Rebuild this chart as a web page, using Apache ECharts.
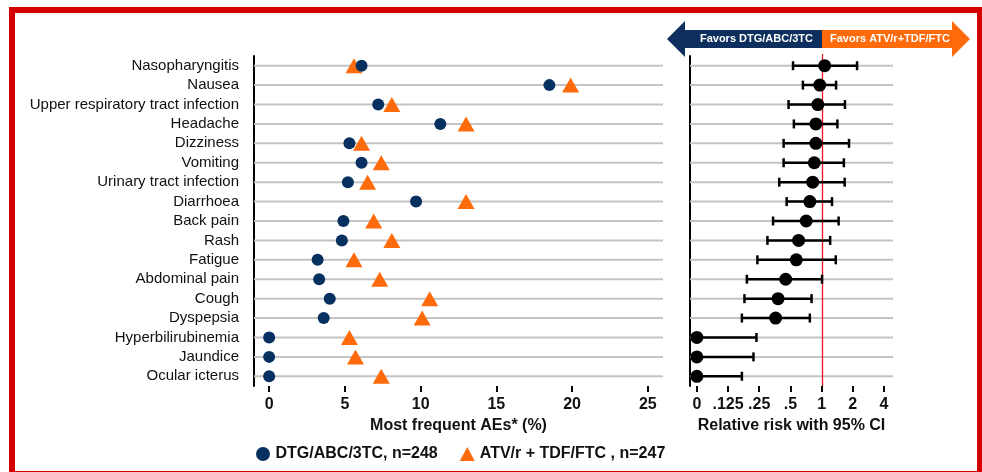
<!DOCTYPE html>
<html>
<head>
<meta charset="utf-8">
<script src="https://cdn.jsdelivr.net/npm/echarts@6/dist/echarts.min.js"></script>
<style>
  html, body { margin: 0; padding: 0; background: #fff; }
  #chart { width: 982px; height: 472px; }
</style>
</head>
<body>
<div id="chart"></div>
<script>
  // adverse events, top to bottom
  var aeNames = ['Nasopharyngitis', 'Nausea', 'Upper respiratory tract infection', 'Headache',
    'Dizziness', 'Vomiting', 'Urinary tract infection', 'Diarrhoea', 'Back pain', 'Rash',
    'Fatigue', 'Abdominal pain', 'Cough', 'Dyspepsia', 'Hyperbilirubinemia', 'Jaundice', 'Ocular icterus'];
  // % of patients
  var dtgPct = [6.1, 18.5, 7.2, 11.3, 5.3, 6.1, 5.2, 9.7, 4.9, 4.8, 3.2, 3.3, 4.0, 3.6, 0, 0, 0];
  var atvPct = [5.6, 19.9, 8.1, 13.0, 6.1, 7.4, 6.5, 13.0, 6.9, 8.1, 5.6, 7.3, 10.6, 10.1, 5.3, 5.7, 7.4];
  // relative risk with 95% CI
  var rrPoint = [1.07, 0.96, 0.92, 0.88, 0.88, 0.85, 0.82, 0.77, 0.71, 0.60, 0.57, 0.45, 0.38, 0.36, 0, 0, 0];
  var rrLow = [0.53, 0.66, 0.48, 0.54, 0.43, 0.43, 0.39, 0.46, 0.34, 0.30, 0.24, 0.19, 0.18, 0.17, 0, 0, 0];
  var rrHigh = [2.2, 1.38, 1.68, 1.42, 1.84, 1.64, 1.67, 1.26, 1.46, 1.21, 1.37, 1.01, 0.80, 0.77, 0.235, 0.22, 0.17];
  var rrRef = [1];
  var pctTicks = [0, 5, 10, 15, 20, 25];
  var rrTicks = [0, 0.125, 0.25, 0.5, 1, 2, 4];
  var rrTickLabels = ['0', '.125', '.25', '.5', '1', '2', '4'];

  var dtgName = 'DTG/ABC/3TC, n=248';
  var atvName = 'ATV/r + TDF/FTC , n=247';

  // log2 scale, 0 drawn one step below .125
  function rrPos(v) {
    return v <= 0 ? -4 : Math.log2(v);
  }

  var myChart = echarts.init(document.getElementById('chart'));

  var black = '#000';
  var font = 'Liberation Sans, Arial, sans-serif';

  function rowLines(params, api) {
    var y = api.coord([0, api.value(0)])[1];
    var cs = params.coordSys;
    return {
      type: 'line',
      shape: { x1: cs.x, y1: y, x2: cs.x + cs.width, y2: y },
      style: { stroke: '#c4c4c4', lineWidth: 2 }
    };
  }

  function refLine(params, api) {
    var x = Math.round(api.coord([api.value(0), 0])[0]) + 0.5;
    var cs = params.coordSys;
    return {
      type: 'line',
      shape: { x1: x, y1: cs.y - 2, x2: x, y2: cs.y + cs.height },
      style: { stroke: '#ee1122', lineWidth: 1.3 }
    };
  }

  function errorBar(params, api) {
    var cat = api.value(2);
    var p1 = api.coord([api.value(0), cat]);
    var p2 = api.coord([api.value(1), cat]);
    var st = { stroke: black, lineWidth: 2.5 };
    return {
      type: 'group',
      children: [
        { type: 'line', shape: { x1: p1[0], y1: p1[1], x2: p2[0], y2: p2[1] }, style: st },
        { type: 'line', shape: { x1: p1[0], y1: p1[1] - 4.5, x2: p1[0], y2: p1[1] + 4.5 }, style: st },
        { type: 'line', shape: { x1: p2[0], y1: p2[1] - 4.5, x2: p2[0], y2: p2[1] + 4.5 }, style: st }
      ]
    };
  }

  var rowIdx = aeNames.map(function (n, i) { return [i]; });

  var option = {
    backgroundColor: '#fff',
    animation: false,
    textStyle: { fontFamily: font },
    grid: [
      { left: 254, width: 409, top: 56, height: 330 },
      { left: 690, width: 203, top: 56, height: 330 }
    ],
    legend: {
      left: 251,
      top: 441,
      itemGap: 22,
      itemWidth: 15,
      itemHeight: 14,
      data: [dtgName, atvName],
      textStyle: { fontSize: 16, fontWeight: 'bold', color: '#111', fontFamily: font }
    },
    xAxis: [
      {
        gridIndex: 0, type: 'value', min: -1, max: 26,
        axisLine: { lineStyle: { color: black, width: 2 } },
        axisTick: { show: true, customValues: pctTicks, length: 6, lineStyle: { color: black, width: 2 } },
        axisLabel: { customValues: pctTicks, fontSize: 16, fontWeight: 'bold', color: '#111', margin: 11 },
        splitLine: { show: false },
        name: 'Most frequent AEs* (%)', nameLocation: 'middle', nameGap: 31,
        nameTextStyle: { fontSize: 16, fontWeight: 'bold', color: '#111' }
      },
      {
        gridIndex: 1, type: 'value', min: -4.22, max: 2.29,
        axisLine: { lineStyle: { color: black, width: 2 } },
        axisTick: { show: true, customValues: rrTicks.map(rrPos), length: 6, lineStyle: { color: black, width: 2 } },
        axisLabel: {
          customValues: rrTicks.map(rrPos), fontSize: 16, fontWeight: 'bold', color: '#111', margin: 11,
          formatter: function (v) {
            return rrTickLabels[rrTicks.map(rrPos).indexOf(v)];
          }
        },
        splitLine: { show: false },
        name: 'Relative risk with 95% CI', nameLocation: 'middle', nameGap: 31,
        nameTextStyle: { fontSize: 16, fontWeight: 'bold', color: '#111' }
      }
    ],
    yAxis: [
      {
        gridIndex: 0, type: 'category', inverse: true, data: aeNames,
        axisLine: { onZero: false, lineStyle: { color: black, width: 2 } },
        axisTick: { show: false },
        axisLabel: { interval: 0, fontSize: 15, color: '#111', margin: 15 },
        splitLine: { show: false }
      },
      {
        gridIndex: 1, type: 'category', inverse: true, data: aeNames,
        axisLine: { onZero: false, lineStyle: { color: black, width: 2 } },
        axisTick: { show: false },
        axisLabel: { show: false },
        splitLine: { show: false }
      }
    ],
    series: [
      {
        type: 'custom', xAxisIndex: 0, yAxisIndex: 0, z: 1, silent: true,
        renderItem: rowLines, encode: { y: 0 }, data: rowIdx
      },
      {
        type: 'custom', xAxisIndex: 1, yAxisIndex: 1, z: 1, silent: true,
        renderItem: rowLines, encode: { y: 0 }, data: rowIdx
      },
      {
        type: 'custom', xAxisIndex: 1, yAxisIndex: 1, z: 2, silent: true,
        renderItem: refLine, encode: { x: 0 },
        data: rrRef.map(function (v) { return [rrPos(v)]; })
      },
      {
        name: atvName, type: 'scatter', xAxisIndex: 0, yAxisIndex: 0, z: 3,
        symbol: 'triangle', symbolSize: [17, 15],
        itemStyle: { color: '#ff6a0a', opacity: 1 },
        data: atvPct.map(function (v, i) { return [v, aeNames[i]]; })
      },
      {
        name: dtgName, type: 'scatter', xAxisIndex: 0, yAxisIndex: 0, z: 4,
        symbol: 'circle', symbolSize: 12,
        itemStyle: { color: '#06305f', opacity: 1 },
        data: dtgPct.map(function (v, i) { return [v, aeNames[i]]; })
      },
      {
        type: 'custom', xAxisIndex: 1, yAxisIndex: 1, z: 3,
        renderItem: errorBar, encode: { x: [0, 1], y: 2 },
        data: rrLow.map(function (v, i) { return [rrPos(v), rrPos(rrHigh[i]), i]; })
      },
      {
        type: 'scatter', xAxisIndex: 1, yAxisIndex: 1, z: 4,
        symbol: 'circle', symbolSize: 13,
        itemStyle: { color: black, opacity: 1 },
        data: rrPoint.map(function (v, i) { return [rrPos(v), aeNames[i]]; })
      }
    ],
    graphic: [
      {
        type: 'rect', silent: true, z: 100,
        shape: { x: 12, y: 10, width: 968, height: 464 },
        style: { fill: 'none', stroke: '#d40000', lineWidth: 6 }
      },
      {
        type: 'polygon', silent: true,
        shape: { points: [[667, 39], [685, 21], [685, 30], [822, 30], [822, 48], [685, 48], [685, 57]] },
        style: { fill: '#0c2f5e' }
      },
      {
        type: 'polygon', silent: true,
        shape: { points: [[822, 30], [952, 30], [952, 21], [970, 39], [952, 57], [952, 48], [822, 48]] },
        style: { fill: '#ff6a0a' }
      },
      {
        type: 'text', x: 813, y: 39, silent: true,
        style: { text: 'Favors DTG/ABC/3TC', fill: '#fff', font: 'bold 11px ' + font, align: 'right', verticalAlign: 'middle' }
      },
      {
        type: 'text', x: 830, y: 39, silent: true,
        style: { text: 'Favors ATV/r+TDF/FTC', fill: '#fff', font: 'bold 11px ' + font, align: 'left', verticalAlign: 'middle' }
      }
    ]
  };

  option && myChart.setOption(option);
  window.onresize = myChart.resize;
</script>
</body>
</html>
